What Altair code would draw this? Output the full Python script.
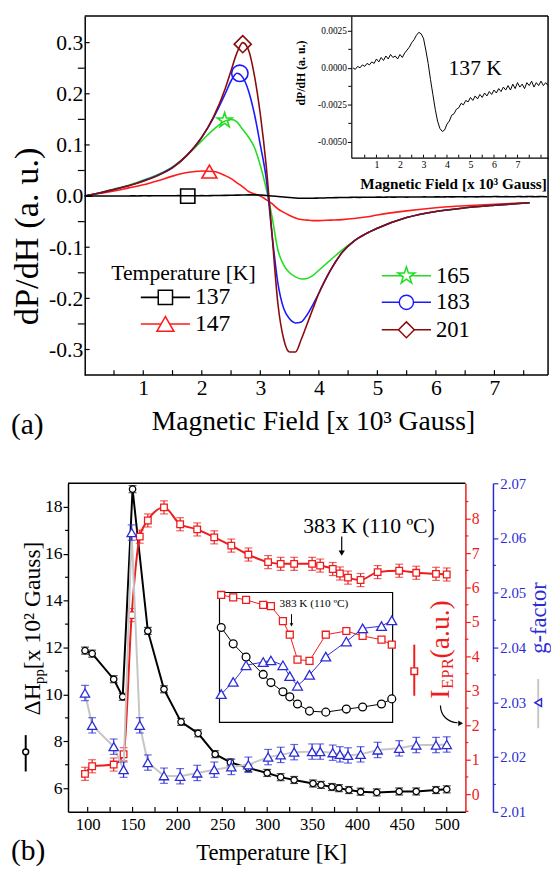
import math
import altair as alt
import pandas as pd

SERIF = "Liberation Serif"
STAR = ("M0,-1L0.2245,-0.309L0.9511,-0.309L0.3633,0.118L0.5878,0.809L0,0.382"
        "L-0.5878,0.809L-0.3633,0.118L-0.9511,-0.309L-0.2245,-0.309Z")

# ===================== Panel (a) data =====================
field = [0.0, 0.25, 0.5, 0.75, 1.0, 1.25, 1.5, 1.75, 2.0, 2.2, 2.4, 2.5, 2.6, 2.7, 2.8, 2.9,
         3.0, 3.1, 3.2, 3.3, 3.4, 3.5, 3.6, 3.7, 3.8, 3.9, 4.0, 4.2, 4.4, 4.6, 4.8, 5.0,
         5.5, 6.0, 6.5, 7.0, 7.6]
dpdh_147 = [0, .005, .01, .016, .022, .03, .039, .046, .049, .048, .04, .034, .026, .018, .009, .004,
            0.0, -.007, -.015, -.025, -.032, -.038, -.043, -.046, -.047, -.048, -.048, -.047, -.046,
            -.044, -.041, -.037, -.029, -.023, -.019, -.016, -.013]
dpdh_165 = [0, .006, .014, .021, .031, .042, .057, .08, .108, .13, .147, .15, .145, .13, .115, .095,
            .06, .015, -.04, -.105, -.135, -.15, -.158, -.162, -.161, -.155, -.145, -.125, -.105,
            -.088, -.074, -.063, -.042, -.03, -.023, -.018, -.013]
dpdh_183 = [0, .006, .013, .02, .03, .041, .056, .08, .115, .153, .2, .225, .24, .232, .205, .16,
            .10, .035, -.075, -.17, -.22, -.24, -.248, -.246, -.232, -.212, -.19, -.145, -.11,
            -.088, -.074, -.063, -.042, -.03, -.023, -.018, -.013]
dpdh_201 = [0, .006, .013, .02, .029, .04, .055, .08, .115, .155, .21, .245, .28, .30, .285, .235,
            .16, .06, -.075, -.21, -.28, -.305, -.305, -.28, -.25, -.22, -.19, -.145, -.11,
            -.088, -.074, -.063, -.042, -.03, -.023, -.018, -.013]

# 137 K spectrum (inset), dP/dH in units of 1e-4
inset_field = [0.0, 0.1, 0.2, 0.3, 0.4, 0.5, 0.6, 0.7, 0.8, 0.9, 1.0, 1.1, 1.2, 1.3, 1.4, 1.5,
               1.6, 1.7, 1.8, 1.9, 2.0, 2.1, 2.2, 2.3, 2.4, 2.5, 2.6, 2.7, 2.8, 2.9, 3.0, 3.1,
               3.2, 3.3, 3.4, 3.5, 3.6, 3.7, 3.8, 3.9, 4.0, 4.1, 4.2, 4.3, 4.4, 4.5, 4.6, 4.7,
               4.8, 4.9, 5.0, 5.1, 5.2, 5.3, 5.4, 5.5, 5.6, 5.7, 5.8, 5.9, 6.0, 6.1, 6.2, 6.3,
               6.4, 6.5, 6.6, 6.7, 6.8, 6.9, 7.0, 7.1, 7.2, 7.3, 7.4, 7.5, 7.6, 7.7, 7.8, 7.9,
               8.0, 8.1, 8.2, 8.3]
dpdh_137_e4 = [0, -1, 1, 0, 2, 1, 3, 2, 4, 3, 6, 4, 7, 5, 8, 6,
               9, 7, 8, 6, 9, 7, 10, 12, 14, 17, 19, 22, 24, 23, 20, 12,
               3, -8, -18, -28, -36, -41, -43, -42, -38, -36, -32, -31, -28, -27, -24, -25,
               -22, -23, -20, -22, -19, -21, -18, -20, -17, -19, -16, -18, -15, -17, -14, -16,
               -13, -15, -12, -15, -11, -14, -10, -13, -11, -14, -10, -12, -9, -13, -10, -12,
               -9, -12, -10, -12]

temps_a = ["137", "147", "165", "183", "201"]
colors_a = ["#000000", "#ff1a1a", "#22dd22", "#1a1aff", "#8b0a0a"]
shapes_a = ["square", "triangle-up", STAR, "circle", "diamond"]
sizes_a = [210, 300, 330, 210, 260]
marker_field = [1.76, 2.13, 2.39, 2.65, 2.70]
marker_dpdh = [0.0, 0.048, 0.148, 0.24, 0.297]

a_xticks = [0.5, 1.0, 1.5, 2.0, 2.5, 3.0, 3.5, 4.0, 4.5, 5.0, 5.5, 6.0, 6.5, 7.0, 7.5]
a_yminor = [-0.25, -0.15, -0.05, 0.05, 0.15, 0.25]
a_ymajor = [-0.3, -0.2, -0.1, 0.0, 0.1, 0.2, 0.3]
ai_xticks = [0.5, 1.0, 1.5, 2.0, 2.5, 3.0, 3.5, 4.0, 4.5, 5.0, 5.5, 6.0, 6.5, 7.0, 7.5, 8.0]
ai_yminor = [-37.5, -12.5, 12.5]

# ===================== Panel (b) data =====================
temp_dh = [97, 105, 129, 139, 150, 167, 185, 204, 223, 242, 259, 279, 300, 315, 330, 351,
           360, 372, 380, 391, 404, 422, 447, 466, 488, 500]
dh_pp = [11.87, 11.74, 10.65, 9.90, 18.76, 12.71, 10.22, 8.83, 8.34, 7.45, 7.10, 6.86, 6.65,
         6.47, 6.35, 6.20, 6.14, 6.05, 6.00, 5.92, 5.85, 5.82, 5.86, 5.86, 5.92, 5.95]
temp_rg = [97, 105, 129, 140, 149, 158, 167, 185, 203, 222, 241, 260, 279, 301, 315, 330, 350,
           359, 373, 381, 390, 404, 423, 447, 466, 488, 500]
i_epr = [0.59, 0.81, 0.86, 1.16, 5.2, 7.48, 7.95, 8.33, 7.84, 7.69, 7.46, 7.22, 6.96, 6.74,
         6.69, 6.69, 6.69, 6.64, 6.54, 6.41, 6.29, 6.22, 6.45, 6.49, 6.43, 6.40, 6.38]
g_factor = [2.0317, 2.0258, 2.0219, 2.0177, 2.0610, 2.0258, 2.0190, 2.0166, 2.0165, 2.0171,
            2.0177, 2.0182, 2.0186, 2.0200, 2.0204, 2.0209, 2.0210, 2.0210, 2.0208, 2.0205,
            2.0203, 2.0205, 2.0213, 2.0216, 2.0222, 2.0222, 2.0223]
err_dh = 0.15
err_i = 0.19
err_g = 0.0014

inset_temp = [301, 315, 330, 350, 359, 373, 381, 390, 404, 423, 447, 466, 488, 500]
inset_dh = [6.65, 6.49, 6.36, 6.19, 6.11, 6.02, 5.97, 5.90, 5.83, 5.82, 5.85, 5.87, 5.90, 5.95]
inset_i = [6.76, 6.74, 6.72, 6.68, 6.67, 6.55, 6.44, 6.24, 6.23, 6.44, 6.47, 6.43, 6.40, 6.36]
inset_g = [2.0200, 2.02038, 2.0209, 2.0210, 2.02105, 2.0209, 2.02056, 2.02026, 2.0206,
           2.02117, 2.02164, 2.02205, 2.02212, 2.0223]
ann_temp = [383]

b_xticks = [100, 125, 150, 175, 200, 225, 250, 275, 300, 325, 350, 375, 400, 425, 450, 475, 500]
b_dh_minor = [7, 9, 11, 13, 15, 17]
b_i_minor = [-0.5, 0.5, 1.5, 2.5, 3.5, 4.5, 5.5, 6.5, 7.5, 8.5]
b_g_minor = [2.015, 2.025, 2.035, 2.045, 2.055, 2.065]


# ===================== helpers =====================
def S(domain, rng=None):
    if rng is None:
        return alt.Scale(domain=domain, nice=False, zero=False)
    return alt.Scale(domain=domain, range=rng, nice=False, zero=False)


ONE = pd.DataFrame({"k": [0]})


def text_mark(text, x, y, size, color="black", angle=0, align="left",
              baseline="middle", weight="normal"):
    return alt.Chart(ONE).mark_text(
        text=text, fontSize=size, font=SERIF, color=color, angle=angle,
        align=align, baseline=baseline, fontWeight=weight
    ).encode(x=alt.value(x), y=alt.value(y))


def hrule(x0, x1, y, color="black", w=1.5):
    return alt.Chart(ONE).mark_rule(color=color, strokeWidth=w).encode(
        x=alt.value(x0), x2=alt.value(x1), y=alt.value(y))


def vrule(x, y0, y1, color="black", w=1.5):
    return alt.Chart(ONE).mark_rule(color=color, strokeWidth=w).encode(
        x=alt.value(x), y=alt.value(y0), y2=alt.value(y1))


def symbol(x, y, shape, size, color, fill="white", w=1.5):
    return alt.Chart(ONE).mark_point(
        shape=shape, size=size, filled=True, fill=fill, stroke=color,
        strokeWidth=w, opacity=1
    ).encode(x=alt.value(x), y=alt.value(y))


def legend_row(label, color, shape, size, x0, x1, y, lx, fs):
    return [hrule(x0, x1, y, color, 1.6),
            symbol((x0 + x1) / 2, y, shape, size, color),
            text_mark(label, lx, y, fs)]


# ===================== Panel (a) =====================
W_A, H_A = 488, 365
xs_a = S([-0.2857, 7.916])
ys_a = S([-0.35, 0.352])
xs_ai = S([-0.07, 8.3], [288, 488])
ys_ai = S([-60.7, 35.0], [144, 0])

rows = []
for t, arr in [("147", dpdh_147), ("165", dpdh_165), ("183", dpdh_183), ("201", dpdh_201)]:
    for h, v in zip(field, arr):
        rows.append({"H": h, "v": v, "T": t})
for h, v in zip(inset_field, dpdh_137_e4):
    if h <= 7.9:
        rows.append({"H": h, "v": v / 10000.0, "T": "137"})
df_a = pd.DataFrame(rows)
df_mk = pd.DataFrame({"H": marker_field, "v": marker_dpdh, "T": temps_a})
df_ai = pd.DataFrame({"H": inset_field, "v": dpdh_137_e4})

x_axis_a = alt.Axis(orient="bottom", values=[1, 2, 3, 4, 5, 6, 7], ticks=False, tickSize=0,
                    domain=False, grid=False, labelFont=SERIF, labelFontSize=22,
                    labelPadding=3, labelColor="black", title=None)
y_axis_a = alt.Axis(orient="left", offset=-17, values=a_ymajor,
                    labelExpr="(datum.value < 0 ? '-' : '') + format(abs(datum.value), '.1f')",
                    ticks=False, tickSize=0, domainColor="black", domainWidth=1.5, grid=False,
                    labelFont=SERIF, labelFontSize=22, labelPadding=2, labelColor="black",
                    title=None)

color_a = alt.Color("T:N", scale=alt.Scale(domain=temps_a, range=colors_a), legend=None)

curves = alt.Chart(df_a).mark_line(strokeWidth=1.6, interpolate="monotone").encode(
    x=alt.X("H:Q", scale=xs_a, axis=x_axis_a),
    y=alt.Y("v:Q", scale=ys_a, axis=y_axis_a),
    color=color_a, detail="T:N")
markers = alt.Chart(df_mk).mark_point(filled=False, strokeWidth=1.6, opacity=1).encode(
    x=alt.X("H:Q", scale=xs_a, axis=None),
    y=alt.Y("v:Q", scale=ys_a, axis=None),
    color=color_a,
    shape=alt.Shape("T:N", scale=alt.Scale(domain=temps_a, range=shapes_a), legend=None),
    size=alt.Size("T:O", scale=alt.Scale(domain=temps_a, range=sizes_a), legend=None))
xt_a = alt.Chart(pd.DataFrame({"H": a_xticks})).mark_rule(color="black", strokeWidth=1.2).encode(
    x=alt.X("H:Q", scale=xs_a, axis=None), y=alt.value(H_A), y2=alt.value(H_A - 5))
ymin_a = alt.Chart(pd.DataFrame({"v": a_yminor})).mark_rule(color="black", strokeWidth=1.2).encode(
    y=alt.Y("v:Q", scale=ys_a, axis=None), x=alt.value(10), x2=alt.value(17))
ymaj_a = alt.Chart(pd.DataFrame({"v": a_ymajor})).mark_rule(color="black", strokeWidth=1.2).encode(
    y=alt.Y("v:Q", scale=ys_a, axis=None), x=alt.value(17), x2=alt.value(22))

x_axis_ai = alt.Axis(orient="bottom", offset=-(H_A - 144), values=[1, 2, 3, 4, 5, 6, 7],
                     ticks=False, tickSize=0, domainColor="black", domainWidth=1.2, grid=False,
                     labelFont=SERIF, labelFontSize=10, labelPadding=2, labelColor="black",
                     title=None)
y_axis_ai = alt.Axis(orient="left", offset=-288, values=[-50, -25, 0, 25],
                     labelExpr="(datum.value < 0 ? '-' : '') + format(abs(datum.value) / 10000, '.4f')",
                     tickSize=4, tickColor="black", tickWidth=1, domainColor="black",
                     domainWidth=1.2, grid=False, labelFont=SERIF, labelFontSize=9.5,
                     labelPadding=1, labelColor="black", title=None)
inset_line = alt.Chart(df_ai).mark_line(color="black", strokeWidth=1).encode(
    x=alt.X("H:Q", scale=xs_ai, axis=x_axis_ai),
    y=alt.Y("v:Q", scale=ys_ai, axis=y_axis_ai))
xt_ai = alt.Chart(pd.DataFrame({"H": ai_xticks})).mark_rule(color="black", strokeWidth=1).encode(
    x=alt.X("H:Q", scale=xs_ai, axis=None), y=alt.value(144), y2=alt.value(141))
ymin_ai = alt.Chart(pd.DataFrame({"v": ai_yminor})).mark_rule(color="black", strokeWidth=1).encode(
    y=alt.Y("v:Q", scale=ys_ai, axis=None), x=alt.value(285), x2=alt.value(288))

deco_a = [
    hrule(-60, -59, 0, "white", 1),
    hrule(17, W_A, 0), vrule(W_A, 0, H_A), hrule(17, W_A, H_A),
    text_mark("dP/dH (a. u.)", -42, 224, 35, angle=270, align="center"),
    text_mark("Magnetic Field [x 10³ Gauss]", 249.5, 413, 28, align="center"),
    text_mark("(a)", -58, 416, 30),
    text_mark("Temperature [K]", 44, 261, 22),
    text_mark("137 K", 414, 53, 22, align="center"),
    text_mark("dP/dH (a. u.)", 237, 58, 12, angle=270, align="center", weight="bold"),
    text_mark("Magnetic Field [x 10³ Gauss]", 392, 171, 15.5, align="center", weight="bold"),
]
deco_a += legend_row("137", colors_a[0], shapes_a[0], sizes_a[0], 74, 124, 286, 129, 24)
deco_a += legend_row("147", colors_a[1], shapes_a[1], sizes_a[1], 74, 124, 313, 129, 24)
deco_a += legend_row("165", colors_a[2], shapes_a[2], sizes_a[2], 319, 369, 264, 374, 23)
deco_a += legend_row("183", colors_a[3], shapes_a[3], sizes_a[3], 319, 369, 291, 374, 23)
deco_a += legend_row("201", colors_a[4], shapes_a[4], sizes_a[4], 319, 369, 319, 374, 23)

panel_a = alt.layer(curves, markers, xt_a, ymin_a, ymaj_a, inset_line, xt_ai, ymin_ai,
                    *deco_a).resolve_scale(
    x="independent", y="independent").properties(width=W_A, height=H_A)

# ===================== Panel (b) =====================
W_B, H_B = 404, 334
RED = "#ee1c1c"
BLUE = "#2b2bd6"
GRAY = "#c6c6c6"
xs_b = S([78.08, 520.8])
ys_dh = S([4.99, 19.01])
ys_i = S([-0.514, 9.03])
ys_g = S([2.01, 2.07])
xs_bi = S([299, 501], [154, 330])
ys_dhi = S([5.72, 6.994], [243, 111])
ys_ii = S([5.735, 6.78], [243, 111])
ys_gi = S([2.01912, 2.02317], [243, 111])

df_dh = pd.DataFrame({"T": temp_dh, "v": dh_pp})
df_dh["lo"] = df_dh["v"] - err_dh
df_dh["hi"] = df_dh["v"] + err_dh
df_i = pd.DataFrame({"T": temp_rg, "v": i_epr})
df_i["lo"] = df_i["v"] - err_i
df_i["hi"] = df_i["v"] + err_i
df_g = pd.DataFrame({"T": temp_rg, "v": g_factor})
df_g["lo"] = df_g["v"] - err_g
df_g["hi"] = df_g["v"] + err_g


def series(df, xs, ys, color, line_color, shape, size, x_axis, y_axis, interp="linear", lw=2):
    X = alt.X("T:Q", scale=xs, axis=x_axis)
    Xn = alt.X("T:Q", scale=xs, axis=None)
    line = alt.Chart(df).mark_line(color=line_color, strokeWidth=lw, interpolate=interp).encode(
        x=X, y=alt.Y("v:Q", scale=ys, axis=y_axis))
    err = alt.Chart(df).mark_rule(color=color, strokeWidth=1.2).encode(
        x=Xn, y=alt.Y("lo:Q", scale=ys, axis=None), y2="hi:Q")
    cap1 = alt.Chart(df).mark_tick(orient="horizontal", color=color, size=8, thickness=1.2).encode(
        x=Xn, y=alt.Y("lo:Q", scale=ys, axis=None))
    cap2 = alt.Chart(df).mark_tick(orient="horizontal", color=color, size=8, thickness=1.2).encode(
        x=Xn, y=alt.Y("hi:Q", scale=ys, axis=None))
    pts = alt.Chart(df).mark_point(shape=shape, size=size, filled=True, fill="white",
                                   stroke=color, strokeWidth=1.3, opacity=1).encode(
        x=Xn, y=alt.Y("v:Q", scale=ys, axis=None))
    return [line, err, cap1, cap2, pts]


x_axis_b = alt.Axis(orient="bottom", values=[100, 150, 200, 250, 300, 350, 400, 450, 500],
                    ticks=False, tickSize=0, domainColor="black", domainWidth=1.5, grid=False,
                    labelFont=SERIF, labelFontSize=17, labelPadding=5, labelColor="black",
                    title=None)
y_axis_dh = alt.Axis(orient="left", values=[6, 8, 10, 12, 14, 16, 18], tickSize=5,
                     tickColor="black", tickWidth=1.2, domainColor="black", domainWidth=1.5,
                     grid=False, labelFont=SERIF, labelFontSize=18, labelPadding=1,
                     labelColor="black", title=None)
y_axis_i = alt.Axis(orient="right", values=[0, 1, 2, 3, 4, 5, 6, 7, 8], tickSize=5,
                    tickColor=RED, tickWidth=1.2, domainColor=RED, domainWidth=1.5, grid=False,
                    labelFont=SERIF, labelFontSize=16, labelPadding=1, labelColor=RED,
                    title=None)
y_axis_g = alt.Axis(orient="right", offset=28, values=[2.01, 2.02, 2.03, 2.04, 2.05, 2.06, 2.07],
                    format=".2f", tickSize=5, tickColor=BLUE, tickWidth=1.2, domainColor=BLUE,
                    domainWidth=1.5, grid=False, labelFont=SERIF, labelFontSize=15,
                    labelPadding=2, labelColor=BLUE, title=None)

blk = series(df_dh, xs_b, ys_dh, "black", "black", "circle", 42, x_axis_b, y_axis_dh)
xt_b = alt.Chart(pd.DataFrame({"T": b_xticks})).mark_rule(color="black", strokeWidth=1.2).encode(
    x=alt.X("T:Q", scale=xs_b, axis=None), y=alt.value(H_B), y2=alt.value(H_B - 5))
ymin_dh = alt.Chart(pd.DataFrame({"v": b_dh_minor})).mark_rule(color="black", strokeWidth=1.2).encode(
    y=alt.Y("v:Q", scale=ys_dh, axis=None), x=alt.value(-3), x2=alt.value(0))
df_ann = pd.DataFrame({"T": ann_temp})
arr_line = alt.Chart(df_ann).mark_rule(color="black", strokeWidth=1.2).encode(
    x=alt.X("T:Q", scale=xs_b, axis=None), y=alt.value(54), y2=alt.value(70))
arr_head = alt.Chart(df_ann).mark_point(shape="triangle-down", size=40, filled=True,
                                        color="black", opacity=1).encode(
    x=alt.X("T:Q", scale=xs_b, axis=None), y=alt.value(71))

red = series(df_i, xs_b, ys_i, RED, RED, "square", 45, None, y_axis_i, interp="monotone")
ymin_i = alt.Chart(pd.DataFrame({"v": b_i_minor})).mark_rule(color=RED, strokeWidth=1.2).encode(
    y=alt.Y("v:Q", scale=ys_i, axis=None), x=alt.value(W_B), x2=alt.value(W_B + 3))

blu = series(df_g, xs_b, ys_g, BLUE, GRAY, "triangle-up", 90, None, y_axis_g)
ymin_g = alt.Chart(pd.DataFrame({"v": b_g_minor})).mark_rule(color=BLUE, strokeWidth=1.2).encode(
    y=alt.Y("v:Q", scale=ys_g, axis=None), x=alt.value(W_B + 28), x2=alt.value(W_B + 31))

df_bi = pd.DataFrame({"T": inset_temp, "dh": inset_dh, "i": inset_i, "g": inset_g})
inset_box = alt.Chart(ONE).mark_rect(fill="white", stroke="black", strokeWidth=1.2).encode(
    x=alt.value(154), x2=alt.value(330), y=alt.value(111), y2=alt.value(243))


def inset_series(col, ys, color, shape, size):
    X = alt.X("T:Q", scale=xs_bi, axis=None)
    line = alt.Chart(df_bi).mark_line(color=color, strokeWidth=1).encode(
        x=X, y=alt.Y(col + ":Q", scale=ys, axis=None))
    pts = alt.Chart(df_bi).mark_point(shape=shape, size=size, filled=True, fill="white",
                                      stroke=color, strokeWidth=1.3, opacity=1).encode(
        x=X, y=alt.Y(col + ":Q", scale=ys, axis=None))
    return [line, pts]


inset_layers = (inset_series("dh", ys_dhi, "black", "circle", 64)
                + inset_series("i", ys_ii, RED, "square", 50)
                + inset_series("g", ys_gi, BLUE, "triangle-up", 100))
in_arr_line = alt.Chart(df_ann).mark_rule(color="black", strokeWidth=1).encode(
    x=alt.X("T:Q", scale=xs_bi, axis=None), y=alt.value(133), y2=alt.value(143))
in_arr_head = alt.Chart(df_ann).mark_point(shape="triangle-down", size=14, filled=True,
                                           color="black", opacity=1).encode(
    x=alt.X("T:Q", scale=xs_bi, axis=None), y=alt.value(144))

# curved pointer from the I_EPR title to the red axis
curl = alt.Chart(ONE).mark_arc(radius=18, radius2=16.8, theta=math.pi, theta2=1.5 * math.pi,
                               color="black").encode(x=alt.value(396), y=alt.value(226))
curl_head = symbol(399, 244, "triangle-right", 24, "black", fill="black", w=0.5)

deco_b = [
    hrule(0, W_B, 0),
    text_mark("(b)", -58, 374, 30),
    text_mark("Temperature [K]", 207, 376, 23, align="center"),
    text_mark("383 K (110 ºC)", 306, 44, 22, align="center"),
    text_mark("383 K (110 ºC)", 250, 123, 11.5, align="center"),
    text_mark("ΔH", -35, 236, 24, angle=270),
    text_mark("pp", -29, 204, 15, angle=270),
    text_mark(" [x 10² Gauss]", -35, 189, 24, angle=270),
    vrule(-43, 256, 293, "black", 2),
    symbol(-43, 273, "circle", 36, "black"),
    text_mark("I", 379, 219, 28, color=RED, angle=270),
    text_mark("EPR", 386, 209, 17, color=RED, angle=270),
    text_mark(" (a.u.)", 379, 178, 28, color=RED, angle=270),
    vrule(352, 164, 216, RED, 2),
    symbol(352, 191, "square", 45, RED),
    text_mark("g-factor", 479, 137, 23, color=BLUE, angle=270, align="center"),
    vrule(478, 199, 249, GRAY, 2),
    symbol(478, 223, "triangle-left", 60, BLUE),
    curl, curl_head,
]

panel_b = alt.layer(*blk, xt_b, ymin_dh, arr_line, arr_head, *red, ymin_i, *blu, ymin_g,
                    inset_box, *inset_layers, in_arr_line, in_arr_head, *deco_b).resolve_scale(
    x="independent", y="independent").properties(width=W_B, height=H_B)

chart = alt.vconcat(panel_a, panel_b, spacing=110, bounds="flush").properties(
    padding={"left": 0, "top": 0, "right": 0, "bottom": 0},
    background="white"
).configure_view(stroke=None)

chart.save("out.html", embed_options={"renderer": "svg", "actions": False})
